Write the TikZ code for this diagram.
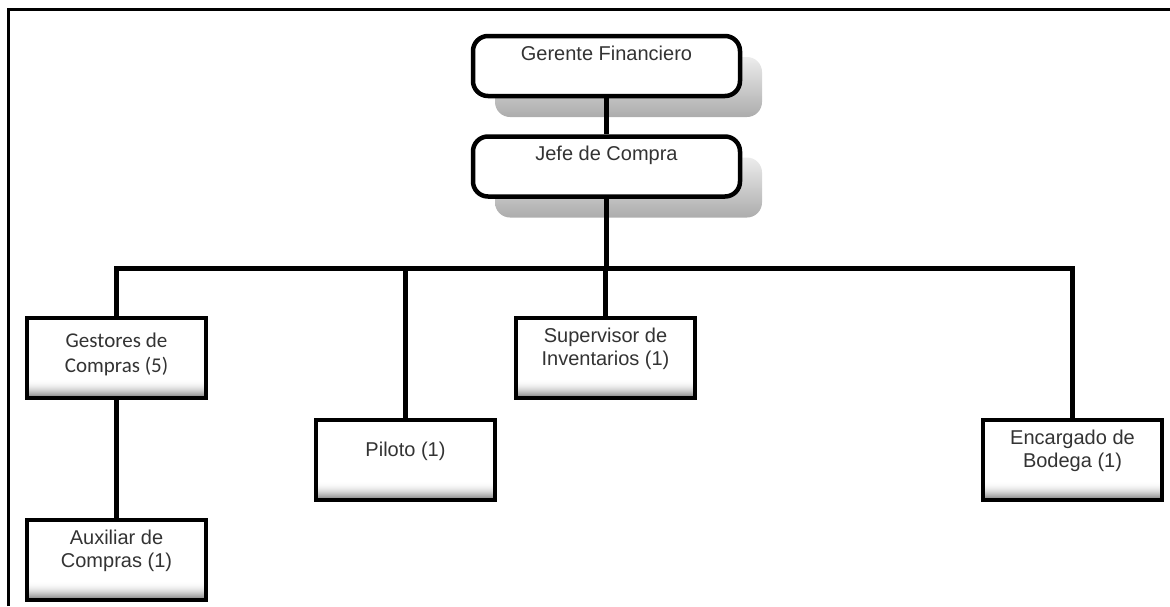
\documentclass[tikz,border=0pt]{standalone}
\usepackage{fontspec}
\setmainfont{Liberation Sans}
\newfontfamily\calibri{Carlito}
\usetikzlibrary{shadows}

\tikzset{
  chief/.style={draw, line width=4.5pt, rounded corners=15pt, fill=white,
    minimum width=267, minimum height=60, text height=14pt, text depth=26pt,
    font=\fontsize{20}{23}\selectfont, text=black!80,
    general shadow={shadow xshift=22pt, shadow yshift=-21pt,
      top color=gray!15, bottom color=gray!65}},
  unit/.style={draw, line width=4pt, fill=white, minimum width=179,
    minimum height=80, align=center, text depth=22pt,
    font=\fontsize{20}{23}\selectfont, text=black!80,
    path picture={
      \foreach \i in {0,...,17}{
        \pgfmathsetmacro\fadeval{50*(1-\i/18)^2}
        \fill[black!\fadeval]
          ([yshift=\i pt]path picture bounding box.south west)
          rectangle ([yshift=\i pt+1.3pt]path picture bounding box.south east);
      }}},
  link/.style={line width=5pt},
}

\begin{document}
\begin{tikzpicture}[x=1pt, y=-1pt]
    \useasboundingbox (0,0) rectangle (1170,606);
    % frame
    \draw[line width=3.5pt] (8.5,606) -- (8.5,9.5) -- (1170,9.5);

    % top of the chart
    \node[chief] (gerente) at (606.5,66) {Gerente Financiero};
    \node[chief] (jefe) at (606.5,166.5) {Jefe de Compra};

    % units
    \node[unit, text depth=10pt, font=\calibri\fontsize{21}{25}\selectfont] (gestores) at (116.5,358) {Gestores de\\Compras (5)};
    \node[unit] (auxiliar) at (116.5,560) {Auxiliar de\\Compras (1)};
    \node[unit] (piloto) at (405.5,460) {Piloto (1)};
    \node[unit] (supervisor) at (605.5,358) {Supervisor de\\Inventarios (1)};
    \node[unit] (encargado) at (1072.5,460) {Encargado de\\Bodega (1)};

    % connectors
    \coordinate (bar) at (0,268);
    \draw[link] (gerente) -- (jefe);
    \draw[link] (jefe.south) -- (jefe.south |- bar);
    \draw[link] (gestores.north) -- (gestores.north |- bar) -- (encargado.north |- bar) -- (encargado.north);
    \draw[link] (piloto.north) -- (piloto.north |- bar);
    \draw[link] (supervisor.north) -- (supervisor.north |- bar);
    \draw[link] (gestores) -- (auxiliar);
\end{tikzpicture}
\end{document}
